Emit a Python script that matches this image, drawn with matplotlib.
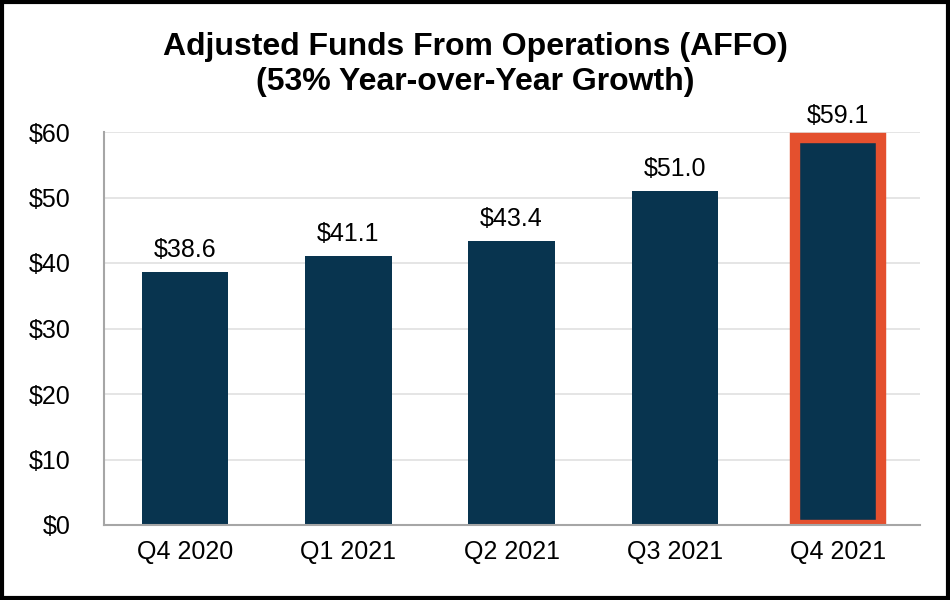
import matplotlib
matplotlib.use("Agg")
import matplotlib.pyplot as plt
from matplotlib.patches import Rectangle

# data
quarters = ["Q4 2020", "Q1 2021", "Q2 2021", "Q3 2021", "Q4 2021"]
affo = [38.6, 41.1, 43.4, 51.0, 59.1]
yticks = [0, 10, 20, 30, 40, 50, 60]

NAVY = "#08344f"
ORANGE = "#e4502e"

plt.rcParams['font.family'] = ['Liberation Sans', 'DejaVu Sans']

fig = plt.figure(figsize=(9.5, 6), dpi=100, facecolor='white')
ax = fig.add_axes([0.109, 0.125, 0.859, 0.655])

bars = ax.bar(range(len(quarters)), affo, width=0.53, color=NAVY, zorder=2)
# highlight latest quarter
bars[-1].set_edgecolor(ORANGE)
bars[-1].set_linewidth(7.5)

for i, v in enumerate(affo):
    ax.annotate("$%.1f" % v, (i, v), xytext=(0, 7), textcoords='offset points',
                ha='center', va='bottom', fontsize=18, color='black')

ax.set_xlim(-0.5, len(quarters) - 0.5)
ax.set_ylim(0, 60)
ax.set_yticks(yticks)
ax.set_yticklabels(["$%d" % t for t in yticks])
ax.set_xticks(range(len(quarters)))
ax.set_xticklabels(quarters)
ax.tick_params(axis='both', length=0, labelsize=18, colors='black')
ax.tick_params(axis='y', pad=24)
ax.tick_params(axis='x', pad=11)

ax.grid(axis='y', color='#e0e0e0', lw=1.2, zorder=0)
ax.set_axisbelow(True)
for s in ['top', 'right']:
    ax.spines[s].set_visible(False)
for s in ['left', 'bottom']:
    ax.spines[s].set_color('#a6a6a6')
    ax.spines[s].set_linewidth(1.5)

fig.text(0.5, 0.893, "Adjusted Funds From Operations (AFFO)\n(53% Year-over-Year Growth)",
         ha='center', va='center', fontsize=23, fontweight='bold', linespacing=1.2)

# black frame around the whole picture
fig.patches.append(Rectangle((0.002, 0.003), 0.996, 0.994, transform=fig.transFigure,
                             fill=False, edgecolor='black', lw=3))

fig.savefig("out.png", dpi=100, facecolor='white')
